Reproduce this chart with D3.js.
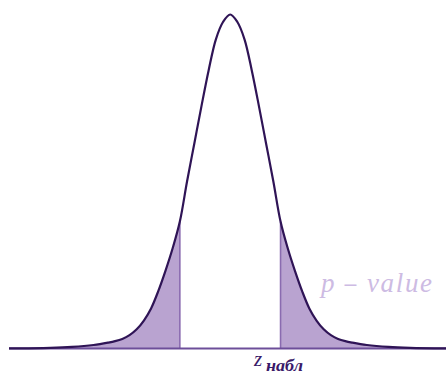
<!DOCTYPE html>
<html>
<head>
<meta charset="utf-8">
<script src="https://cdn.jsdelivr.net/npm/d3@7"></script>
<style>
  html, body { margin: 0; padding: 0; background: #fff; }
  svg { display: block; }
</style>
</head>
<body>
<script>
// density curve (z in sd-like units, height in density units)
var zVals = [-6.15, -5.0, -4.4, -3.8, -3.4, -3.2, -3.0, -2.8, -2.6, -2.4, -2.2, -2.0, -1.8, -1.6, -1.4, -1.2, -1.0, -0.8, -0.6, -0.4, -0.2, 0,
              0.2, 0.4, 0.6, 0.8, 1.0, 1.2, 1.4, 1.6, 1.8, 2.0, 2.2, 2.4, 2.6, 2.8, 3.0, 3.2, 3.4, 3.8, 4.4, 5.0, 6.0];
var density = [0.0001, 0.0008, 0.0019, 0.0042, 0.0070, 0.0088, 0.0115, 0.0160, 0.0230, 0.0335, 0.048, 0.0687, 0.093, 0.120, 0.152, 0.200, 0.245, 0.290, 0.333, 0.370, 0.391, 0.400,
               0.391, 0.370, 0.333, 0.290, 0.245, 0.200, 0.152, 0.120, 0.093, 0.0687, 0.048, 0.0335, 0.0230, 0.0160, 0.0115, 0.0088, 0.0070, 0.0042, 0.0019, 0.0008, 0.0001];
var zObs = 1.4;           // observed statistic (two-sided)
var labelZ = "z";
var labelSub = "набл";
var labelP = ["p", "−", "value"];

var width = 446, height = 376;

var svg = d3.select("body").append("svg")
    .attr("width", width)
    .attr("height", height);

var x = d3.scaleLinear().domain([-6.15, 6.0]).range([9, 446]);
var y = d3.scaleLinear().domain([0, 0.4]).range([348.5, 14.5]);

var pts = zVals.map(function(z, i){ return {z: z, d: density[i]}; });

var curve = d3.curveCatmullRom.alpha(0.5);

var line = d3.line()
    .x(function(p){ return x(p.z); })
    .y(function(p){ return Math.min(y(p.d), y(0)); })
    .curve(curve);

var area = d3.area()
    .x(function(p){ return x(p.z); })
    .y0(y(0))
    .y1(function(p){ return y(p.d); })
    .curve(curve);

// clip rects for the two tails
var defs = svg.append("defs");
defs.append("clipPath").attr("id", "leftTail")
  .append("rect").attr("x", 0).attr("y", 0)
  .attr("width", x(-zObs)).attr("height", y(0));
defs.append("clipPath").attr("id", "rightTail")
  .append("rect").attr("x", x(zObs)).attr("y", 0)
  .attr("width", width - x(zObs)).attr("height", y(0));

svg.append("path").datum(pts)
    .attr("d", area)
    .attr("fill", "#b9a3d0")
    .attr("clip-path", "url(#leftTail)");
svg.append("path").datum(pts)
    .attr("d", area)
    .attr("fill", "#b9a3d0")
    .attr("clip-path", "url(#rightTail)");

// boundary lines
var hObs = density[zVals.indexOf(zObs)];
[-zObs, zObs].forEach(function(z){
  svg.append("line")
      .attr("x1", x(z)).attr("x2", x(z))
      .attr("y1", y(0)).attr("y2", y(hObs))
      .attr("stroke", "#8a6bb0")
      .attr("stroke-width", 1.6);
});

// baseline
svg.append("line")
    .attr("x1", x(-6.15)).attr("x2", width)
    .attr("y1", y(0)).attr("y2", y(0))
    .attr("stroke", "#6d4e99")
    .attr("stroke-width", 1.8);

// curve
svg.append("path").datum(pts)
    .attr("d", line)
    .attr("fill", "none")
    .attr("stroke", "#2f1456")
    .attr("stroke-width", 2.2)
    .attr("stroke-linejoin", "round");

var serif = "'Liberation Serif', 'DejaVu Serif', serif";

// z_obs label
svg.append("text")
    .attr("x", 254).attr("y", 366)
    .attr("fill", "#3a1a6a")
    .style("font-family", serif).style("font-style", "italic")
    .style("font-size", "21px")
    .text(labelZ);
svg.append("text")
    .attr("x", 266).attr("y", 371)
    .attr("fill", "#3a1a6a")
    .style("font-family", serif).style("font-style", "italic")
    .style("font-weight", "bold")
    .style("font-size", "16px")
    .attr("textLength", 37).attr("lengthAdjust", "spacingAndGlyphs")
    .text(labelSub);

// p-value label
var pCol = "#cdbbe3";
svg.append("text").attr("x", 321).attr("y", 292)
    .attr("fill", pCol).style("font-family", serif).style("font-style", "italic")
    .style("font-size", "27px").text(labelP[0]);
svg.append("text").attr("x", 350.5).attr("y", 291)
    .attr("text-anchor", "middle")
    .attr("fill", pCol).style("font-family", "'DejaVu Serif', serif")
    .style("font-size", "19px").text(labelP[1]);
svg.append("text").attr("x", 367).attr("y", 292)
    .attr("fill", pCol).style("font-family", serif).style("font-style", "italic")
    .style("font-size", "27px")
    .attr("textLength", 65).attr("lengthAdjust", "spacing")
    .text(labelP[2]);
</script>
</body>
</html>
